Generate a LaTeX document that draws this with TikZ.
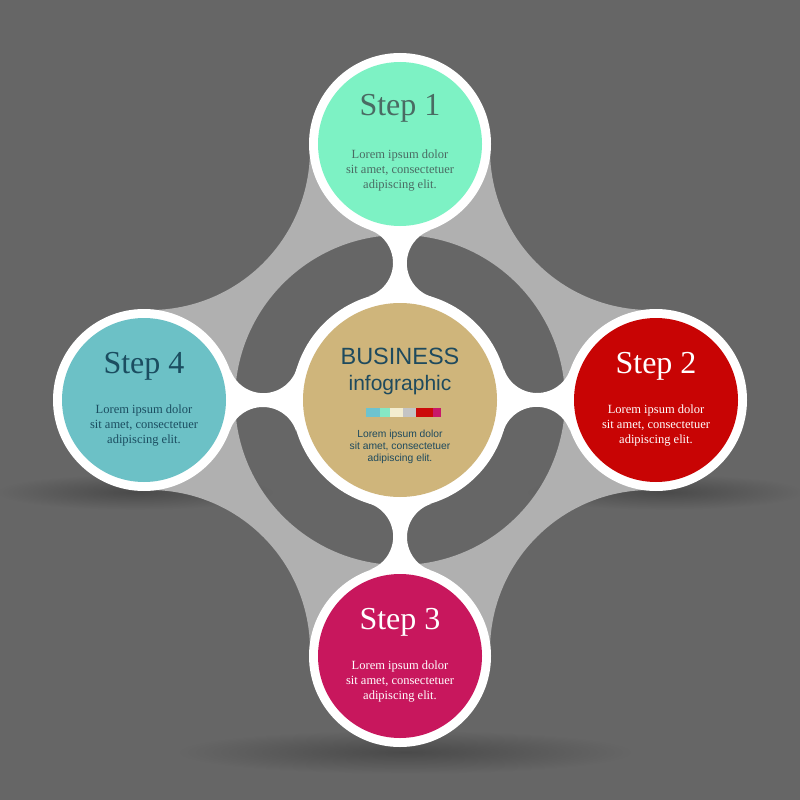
\documentclass[tikz,border=0pt]{standalone}
\usepackage{fontspec}
\setmainfont{Liberation Serif}
\setsansfont{Liberation Sans}
\usetikzlibrary{calc}
\definecolor{bgc}{HTML}{666666}
\definecolor{bandc}{HTML}{B0B0B0}
\definecolor{shc}{HTML}{4A4A4A}
\definecolor{mintc}{HTML}{7DF2C4}
\definecolor{redc}{HTML}{C80404}
\definecolor{magc}{HTML}{C8175D}
\definecolor{tealc}{HTML}{6CC1C6}
\definecolor{beigec}{HTML}{CFB57B}
\definecolor{txtone}{HTML}{4A6B63}
\definecolor{txtfour}{HTML}{1B4D60}
\definecolor{txtmid}{HTML}{1E4A5E}
\definecolor{barA}{HTML}{6EC3CF}
\definecolor{barB}{HTML}{86E8C4}
\definecolor{barC}{HTML}{F3EDD0}
\definecolor{barD}{HTML}{C4C4C4}
\definecolor{barE}{HTML}{CC0A0A}
\definecolor{barF}{HTML}{C8186A}
\tikzset{
  ring/.style={circle, fill=white, inner sep=0pt, minimum size=#1},
  disc/.style 2 args={circle, fill=#1, inner sep=0pt, minimum size=#2},
  steptitle/.style={font=\fontsize{32}{38}\selectfont, anchor=base, inner sep=0pt, text=#1},
  lorem/.style={font=\fontsize{12.5}{14.7}\selectfont, align=center, anchor=north, inner sep=0pt, text=#1},
  shadowblob/.style={inner color=shc, outer color=bgc},
  neckfill/.style={fill=white}
}
\begin{document}
\begin{tikzpicture}[x=1pt,y=-1pt]
\useasboundingbox (0,0) rectangle (800,800);
\fill[bgc] (0,0) rectangle (800,800);
% shadows
\shade[shadowblob] (135,492) ellipse [x radius=140, y radius=18];
\shade[shadowblob] (665,492) ellipse [x radius=140, y radius=18];
\shade[shadowblob] (405,752) ellipse [x radius=230, y radius=22];
% grey band with concave corners and central hole
\fill[bandc, even odd rule]
  (309.89,144) -- (490.11,144)
  arc[start angle=182.15, end angle=87.85, radius=160]
  -- (656,490.11)
  arc[start angle=272.15, end angle=177.85, radius=160]
  -- (309.89,656)
  arc[start angle=2.15, end angle=-92.15, radius=160]
  -- (144,309.89)
  arc[start angle=92.15, end angle=-2.15, radius=160]
  -- cycle
  (400,400) circle [radius=165];
% necks
\foreach \a in {0,90,180,270}{
  \fill[neckfill, rotate around={\a:(400,400)}]
    (369.7,229.9) arc[start angle=-70.5, end angle=73, radius=35]
    -- (431.6,296.8) arc[start angle=107, end angle=250.5, radius=35] -- cycle;
}
% circles
\node[ring=216] (c0) at (400,400) {};
\node[disc={beigec}{194}] (c0f) at (c0) {};
\node[ring=182] (c1) at (400,144) {};
\node[disc={mintc}{164}] (c1f) at (c1) {};
\node[ring=182] (c2) at (656,400) {};
\node[disc={redc}{164}] (c2f) at (c2) {};
\node[ring=182] (c3) at (400,656) {};
\node[disc={magc}{164}] (c3f) at (c3) {};
\node[ring=182] (c4) at (144,400) {};
\node[disc={tealc}{164}] (c4f) at (c4) {};
% step texts
\node[steptitle=txtone] (t1) at ($(c1)+(0,-29)$) {Step 1};
\node[lorem=txtone] (l1) at ($(c1)+(0,6)$) {Lorem ipsum dolor\\sit amet, consectetuer\\adipiscing elit.};
\node[steptitle=white] (t2) at ($(c2)+(0,-27)$) {Step 2};
\node[lorem=white] (l2) at ($(c2)+(0,5)$) {Lorem ipsum dolor\\sit amet, consectetuer\\adipiscing elit.};
\node[steptitle=white] (t3) at ($(c3)+(0,-27)$) {Step 3};
\node[lorem=white] (l3) at ($(c3)+(0,5)$) {Lorem ipsum dolor\\sit amet, consectetuer\\adipiscing elit.};
\node[steptitle=txtfour] (t4) at ($(c4)+(0,-27)$) {Step 4};
\node[lorem=txtfour] (l4) at ($(c4)+(0,5)$) {Lorem ipsum dolor\\sit amet, consectetuer\\adipiscing elit.};
% centre texts
\node[font=\sffamily\fontsize{23.5}{28}\selectfont, text=txtmid, anchor=base, inner sep=0pt] (bt) at ($(c0)+(0,-36)$) {BUSINESS};
\node[font=\sffamily\fontsize{21}{25}\selectfont, text=txtmid, anchor=base, inner sep=0pt] (it) at ($(c0)+(0,-10)$) {infographic};
\fill[barA] (366,408) rectangle (380,417);
\fill[barB] (380,408) rectangle (390,417);
\fill[barC] (390,408) rectangle (403,417);
\fill[barD] (403,408) rectangle (416,417);
\fill[barE] (416,408) rectangle (433,417);
\fill[barF] (433,408) rectangle (441,417);
\node[font=\sffamily\fontsize{10.3}{12}\selectfont, text=txtmid, align=center, anchor=north, inner sep=0pt] (lc) at ($(c0)+(0,29.5)$) {Lorem ipsum dolor\\sit amet, consectetuer\\adipiscing elit.};
\end{tikzpicture}
\end{document}
